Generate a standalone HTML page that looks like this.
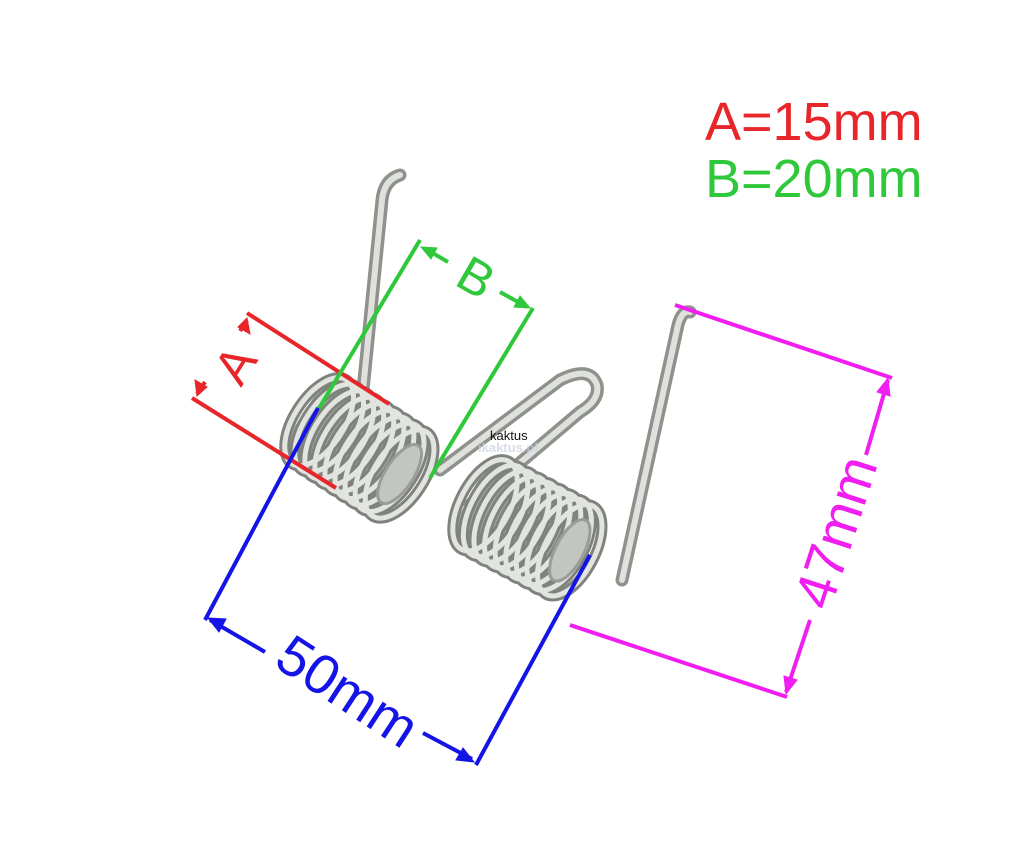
<!DOCTYPE html>
<html><head><meta charset="utf-8"><style>
html,body{margin:0;padding:0;background:#fff;}
svg{display:block;}
text{font-family:"Liberation Sans",Arial,sans-serif;}
</style></head><body>
<svg width="1024" height="865" viewBox="0 0 1024 865" xmlns="http://www.w3.org/2000/svg">
<defs>
<g id="coil" fill="none">
<rect x="-10" y="-3" width="120" height="100" rx="25" fill="#a9aca6"/>
<g stroke="#80837d" stroke-width="11">
<ellipse cx="8" cy="47" rx="25" ry="50"/>
<ellipse cx="20" cy="47" rx="25" ry="50"/>
<ellipse cx="32" cy="47" rx="25" ry="50"/>
<ellipse cx="44" cy="47" rx="25" ry="50"/>
<ellipse cx="56" cy="47" rx="25" ry="50"/>
<ellipse cx="68" cy="47" rx="25" ry="50"/>
<ellipse cx="80" cy="47" rx="25" ry="50"/>
<ellipse cx="92" cy="47" rx="25" ry="50"/>
<ellipse cx="104" cy="47" rx="25" ry="50"/>
</g>
<g stroke="#e2e4df" stroke-width="5">
<ellipse cx="8" cy="47" rx="25" ry="50"/>
<ellipse cx="20" cy="47" rx="25" ry="50"/>
<ellipse cx="32" cy="47" rx="25" ry="50"/>
<ellipse cx="44" cy="47" rx="25" ry="50"/>
<ellipse cx="56" cy="47" rx="25" ry="50"/>
<ellipse cx="68" cy="47" rx="25" ry="50"/>
<ellipse cx="80" cy="47" rx="25" ry="50"/>
<ellipse cx="92" cy="47" rx="25" ry="50"/>
<ellipse cx="104" cy="47" rx="25" ry="50"/>
</g>
<ellipse cx="104" cy="47" rx="14" ry="34" fill="#c3c6c0" stroke="#9a9d97" stroke-width="3"/>
</g>
</defs>
<rect width="1024" height="865" fill="#fff"/>
<text x="705" y="140" font-size="54" fill="#e8262a">A=15mm</text>
<text x="705" y="197" font-size="54" fill="#2ec83a">B=20mm</text>

<g fill="none" stroke-linecap="round" stroke-linejoin="round">
<path d="M360 420 L382 200 Q384 180 400 175" stroke="#8f928c" stroke-width="13"/>
<path d="M360 420 L382 200 Q384 180 400 175" stroke="#dfe1dc" stroke-width="6"/>
<path d="M440 470 L560 380 Q590 365 597 385 Q600 400 580 412 L470 505" stroke="#8f928c" stroke-width="13"/>
<path d="M440 470 L560 380 Q590 365 597 385 Q600 400 580 412 L470 505" stroke="#dfe1dc" stroke-width="6"/>
<path d="M622 580 L678 325 Q682 310 690 312" stroke="#8f928c" stroke-width="13"/>
<path d="M622 580 L678 325 Q682 310 690 312" stroke="#dfe1dc" stroke-width="6"/>
</g>
<use href="#coil" transform="translate(338,378) rotate(33)"/>
<use href="#coil" transform="translate(500,460) rotate(28)"/>

<text x="490" y="440" font-size="13" fill="#111">kaktus</text>
<text x="478" y="452" font-size="13" font-weight="bold" fill="#c8d0dc" opacity="0.7">ikaktus.pl</text>

<g stroke="#e8262a" stroke-width="4" fill="#e8262a">
<line x1="247" y1="313" x2="389" y2="404"/>
<line x1="192" y1="398" x2="336" y2="488"/>
<line x1="247" y1="320" x2="240" y2="331"/>
<line x1="197" y1="394" x2="205" y2="382"/>
<polygon points="247,318 250,334 238,327" stroke-width="1"/>
<polygon points="197,396 195,380 207,387" stroke-width="1"/>
</g>
<text x="0" y="0" font-size="50" fill="#e8262a" transform="translate(241,388) rotate(-58)">A</text>

<g stroke="#2ec83a" stroke-width="4" fill="#2ec83a">
<line x1="420" y1="240" x2="318" y2="410"/>
<line x1="533" y1="308" x2="430" y2="478"/>
<line x1="424" y1="248" x2="448" y2="262"/>
<line x1="500" y1="292" x2="527" y2="307"/>
<polygon points="421,247 437,248 431,259" stroke-width="1"/>
<polygon points="530,308 514,307 520,296" stroke-width="1"/>
</g>
<text x="0" y="0" font-size="50" fill="#2ec83a" transform="translate(453,284) rotate(30)">B</text>

<g stroke="#1414e6" stroke-width="4" fill="#1414e6">
<line x1="318" y1="408" x2="205" y2="620"/>
<line x1="590" y1="555" x2="476" y2="765"/>
<line x1="210" y1="620" x2="265" y2="652"/>
<line x1="423" y1="733" x2="472" y2="759"/>
<polygon points="208,618 226,619 219,632" stroke-width="1"/>
<polygon points="474,762 456,760 463,748" stroke-width="1"/>
</g>
<text x="0" y="0" font-size="56" fill="#1414e6" transform="translate(272,665) rotate(33)">50mm</text>

<g stroke="#f01ef0" stroke-width="4" fill="#f01ef0">
<line x1="675" y1="305" x2="892" y2="378"/>
<line x1="570" y1="625" x2="787" y2="697"/>
<line x1="888" y1="380" x2="866" y2="455"/>
<line x1="810" y1="620" x2="786" y2="692"/>
<polygon points="888,378 890,396 877,392" stroke-width="1"/>
<polygon points="786,694 784,676 797,680" stroke-width="1"/>
</g>
<text x="0" y="0" font-size="56" fill="#f01ef0" transform="translate(830,612) rotate(-72)">47mm</text>
</svg>
</body></html>
